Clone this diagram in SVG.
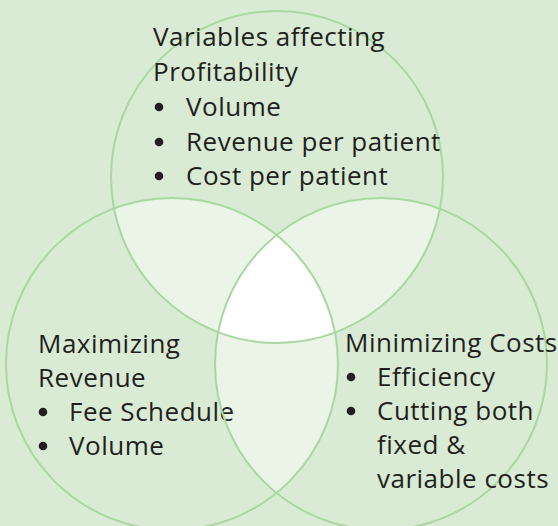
<svg xmlns="http://www.w3.org/2000/svg" width="558" height="526" viewBox="0 0 558 526">
<style>
.ring{fill:none;stroke:#a9d7a0;stroke-width:2}
.pair{fill:#eaf4e7}
.t{font-family:"Open Sans","Noto Sans","Liberation Sans",sans-serif;font-size:26px;letter-spacing:0.5px;fill:#231f20}
.b{fill:#231f20}
</style>
<defs>
<clipPath id="cT"><circle cx="277" cy="177" r="166"/></clipPath>
<clipPath id="cL"><circle cx="172" cy="364" r="166"/></clipPath>
<clipPath id="cR"><circle cx="381" cy="364" r="166"/></clipPath>
</defs>
<rect width="558" height="526" fill="#d9ebd4"/>
<g id="overlaps">
<circle class="pair" cx="172" cy="364" r="166" clip-path="url(#cT)"/>
<circle class="pair" cx="381" cy="364" r="166" clip-path="url(#cT)"/>
<circle class="pair" cx="381" cy="364" r="166" clip-path="url(#cL)"/>
<g clip-path="url(#cL)"><circle cx="381" cy="364" r="166" fill="#ffffff" clip-path="url(#cT)"/></g>
</g>
<g id="top">
<circle class="ring" cx="277" cy="177" r="166"/>
<text class="t" x="153" y="46">Variables affecting</text>
<text class="t" x="153" y="81">Profitability</text>
<circle class="b" cx="159" cy="107" r="4.3"/><text class="t" x="186" y="116">Volume</text>
<circle class="b" cx="159" cy="142" r="4.3"/><text class="t" x="186" y="151">Revenue per patient</text>
<circle class="b" cx="159" cy="176" r="4.3"/><text class="t" x="186" y="185">Cost per patient</text>
</g>
<g id="left">
<circle class="ring" cx="172" cy="364" r="166"/>
<text class="t" x="38" y="353">Maximizing</text>
<text class="t" x="38" y="387">Revenue</text>
<circle class="b" cx="43" cy="412" r="4.3"/><text class="t" x="69" y="421">Fee Schedule</text>
<circle class="b" cx="43" cy="446" r="4.3"/><text class="t" x="69" y="455">Volume</text>
</g>
<g id="right">
<circle class="ring" cx="381" cy="364" r="166"/>
<text class="t" x="345" y="352">Minimizing Costs</text>
<circle class="b" cx="351" cy="377" r="4.3"/><text class="t" x="377" y="386">Efficiency</text>
<circle class="b" cx="351" cy="411" r="4.3"/><text class="t" x="377" y="420">Cutting both</text>
<text class="t" x="377" y="454">fixed &amp;</text>
<text class="t" x="377" y="488">variable costs</text>
</g>
</svg>
